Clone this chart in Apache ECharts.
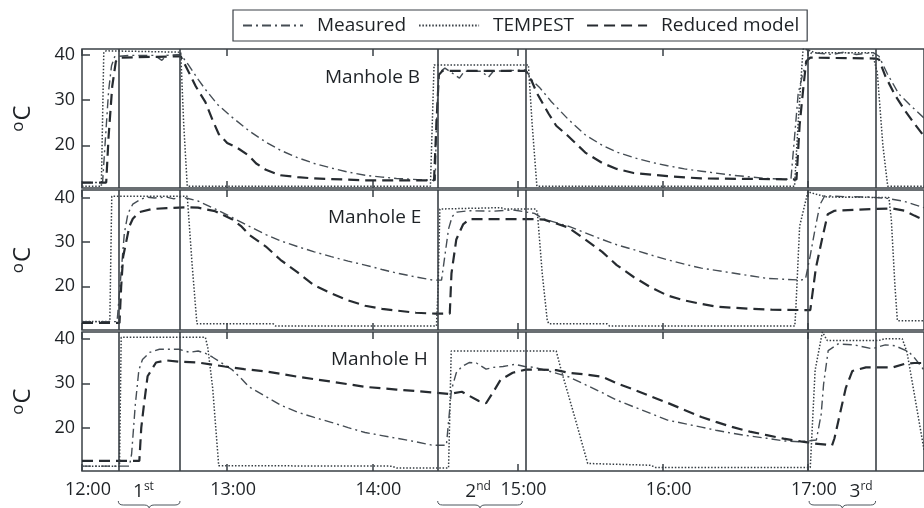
<!DOCTYPE html>
<html>
<head>
<meta charset="utf-8">
<script src="https://cdn.jsdelivr.net/npm/echarts@6/dist/echarts.min.js"></script>
<style>html,body{margin:0;padding:0;background:#fff}#main{width:924px;height:508px}</style>
</head>
<body>
<div id="main"></div>
<script>
// time in minutes after 12:00, temperature in degC
var hourTicks = [0, 60, 120, 180, 240, 300];
var yTicks = [20, 30, 40];
var cycleLines = [15, 40.5, 147, 183.4, 300, 328];
var cycleLabelPos = [25.4, 163.7, 322];
var cycleLabels = ['1st', '2nd', '3rd'];
var braceSpans = [[15, 40.5], [147, 182], [300.5, 328]];
var panelNames = ['Manhole B', 'Manhole E', 'Manhole H'];

var bMeasured = [[0,11.8],[8.5,11.8],[9.5,20],[11,32],[12.2,37.5],[13.5,39.5],[20,39.8],[30,39.8],[33,38.7],[35,39.8],[40.8,40],[44,37.7],[48,34.5],[51,32.3],[56,29],[62,26.2],[69,23.2],[76,20.7],[82,18.9],[89,17.3],[96,16],[103,15],[110,14.1],[117,13.4],[124,13],[130,12.7],[137,12.5],[144,12.3],[146,12.3],[146.5,25],[147.5,36],[150,37],[156,34.8],[158,36.3],[165,36.3],[168,35],[170,36.3],[183.4,36.6],[186,34.3],[189,32.8],[194,29.6],[201,25.7],[208,22.3],[215,20],[221,18.5],[228,17.3],[235,16.3],[242,15.5],[249,14.8],[256,14.3],[269,13.4],[283,12.7],[293,12.5],[295,25],[296,31.4],[298,36],[300,38.9],[301.5,40.4],[310,40],[315,40.5],[320,40],[327,40.4],[329.4,39.6],[332.8,35.8],[337.6,31.3],[343,28.5],[348,26]];
var bTempest = [[0,11],[8,11],[9,40.5],[10,40.8],[40.8,40.5],[42,25],[43.5,11],[144,11],[144.5,20],[145.5,37.7],[184.5,37.7],[186,25],[188,11],[294.5,11],[296,25],[298,41.2],[300,41],[303,40.4],[326.6,40.4],[328.7,36],[331,20],[333,11],[348,11]];
var bReduced = [[0,11.8],[10,11.8],[11,22],[12.5,33],[14,38.5],[16,39.3],[40.8,39.6],[43,37.3],[47,33],[51,29.5],[54,25.5],[56.5,22.5],[60,20.5],[64,19.5],[69,17.7],[72,16],[76,14.6],[82,13.4],[89,13],[96,12.7],[117,12.3],[145.5,12.3],[146.5,25],[147.5,35.5],[149,36.4],[183.4,36.4],[186,34],[188,31.5],[192.8,27],[196,24.3],[201,22],[208,18.4],[215,16.1],[221,14.8],[228,13.9],[242,13.2],[256,12.7],[295.3,12.5],[296.6,24.5],[298,32],[299.3,38.5],[301,39.3],[328,39.1],[329.4,38.9],[332.1,35.1],[336.2,30.9],[340.3,27.5],[344.4,24.5],[348,22]];

var eMeasured = [[0,12],[14.5,12],[16,22],[17.5,32],[19,36.5],[21,38.6],[24,39.6],[26.5,40.2],[30,40],[35,40.2],[38,39.8],[41,40.3],[43,40],[48,39.3],[55,37.5],[62,35.6],[69,33.6],[76,31.7],[82,30.3],[89,29],[96,27.8],[103,26.7],[110,25.7],[117,24.8],[124,23.8],[130,23],[138,22.1],[145,21.4],[148.6,21.4],[150,27],[151.5,33],[153,35.8],[155,36.8],[160,37.1],[170,37],[178,37.3],[187,36.5],[191,35.2],[196,34.4],[201,33.6],[208,32.1],[215,30.6],[221,29.4],[228,28.3],[235,27.1],[242,26],[249,25],[256,24.1],[262,23.6],[269,23],[276,22.4],[283,21.8],[290,21.6],[297,21.4],[299,21.6],[301,27],[303,33],[305,38.5],[307,40.5],[315,40.3],[325,40.2],[333,39.9],[340,39.2],[344,38.5],[348,37.8]];
var eTempest = [[0,12],[11.5,12],[12.3,40.4],[43.5,40.4],[45.5,25],[47.5,11.5],[79,11.5],[80,11],[146.5,11],[147.2,20],[147.9,37.5],[173,37.8],[175,37.5],[187.5,37.5],[188.2,36.8],[190.2,23],[192.3,12.2],[193,11.5],[217,11.5],[218,11],[294.6,11],[295,14.5],[296.6,33.6],[300,41.4],[303,40.9],[308,40.2],[333.5,40.1],[334.5,35],[336,20],[337,12.2],[348,12.2]];
var eReduced = [[0,11.7],[15.5,11.7],[16.2,20],[17,26.7],[19.6,33.6],[21,35.3],[23.7,36.8],[29,37.5],[35,37.7],[44,37.9],[48,37.8],[55,37],[62,35.2],[66,33.5],[69,31.7],[76,29],[82,26],[89,23.2],[96,20.2],[103,18.4],[110,16.8],[117,15.6],[124,14.9],[130,14.5],[138,14],[146,13.8],[152,13.8],[152.7,22.9],[154.7,30.6],[157.5,34],[160.2,35.2],[187,35.2],[191,35.1],[196,34.2],[201,33.3],[208,30.6],[215,27.8],[221,24.8],[228,22.1],[235,19.8],[242,17.9],[249,16.8],[256,16],[262,15.4],[276,14.9],[285,14.7],[301,14.6],[303.3,24.1],[306,31],[308.2,36.3],[311,37.1],[326.6,37.5],[335,37.6],[340,37.1],[344,36],[348,35]];

var hMeasured = [[0,11.3],[19.6,11.3],[20.5,14],[22,25],[23.5,33],[25,35.4],[28,37],[32,37.7],[40,37.7],[44.5,37],[48,37.3],[51,36.8],[54,35.9],[58,34.5],[62,33.1],[66,31],[69,29.2],[76,27],[82,25.1],[89,23.5],[96,22.3],[103,21.2],[110,20],[117,18.9],[124,18.2],[130,17.6],[138,16.8],[145,16],[150.6,16],[152.7,28.5],[154.7,32.4],[157,33.8],[160,34.7],[163,34.6],[167,33.2],[170,33.6],[174,33.8],[179,34.3],[183,33.8],[187,33.6],[194,32.6],[201,31.5],[208,29.7],[215,27.9],[221,26.2],[228,24.7],[235,23.2],[242,21.7],[249,20.9],[256,20.1],[262,19.4],[269,18.7],[276,18.1],[283,17.6],[290,17],[297,16.8],[303.5,17.2],[305.5,23],[306.5,29.8],[308.4,37.4],[312.5,38.9],[319,38.7],[326.6,37.8],[332,38.7],[336,38.5],[341.7,37.1],[344,35.8],[348,33]];
var hTempest = [[0,11.3],[15.5,11.3],[16.2,40.4],[51,40.4],[52,38],[54,29],[56.5,11.4],[128,11.3],[130,10.9],[151.5,10.9],[152.6,37.3],[196,37.3],[198,33.1],[204,21.7],[209,11.9],[235,11.5],[237,11],[301,11],[303,33],[306,41.6],[308,39.7],[329.4,39.7],[332,40.1],[339,40.1],[341,37],[344,27.6],[348,15]];
var hReduced = [[0,12.5],[23.7,12.5],[24.5,20],[25.5,24.7],[27.1,31.6],[30.6,34.7],[34.7,35.2],[40,34.9],[48,34.7],[59,33.8],[67,33.2],[76,32.7],[89,31.5],[103,30.4],[117,29.2],[130,28.6],[146,27.9],[152,27.6],[157,28.1],[160,27.2],[164,26],[167,25.5],[169.7,27.8],[173,30.8],[178,32.4],[183.4,33.1],[190,33.1],[196,33],[201,32.4],[208,32],[215,31.5],[221,30],[228,28.6],[235,27.1],[242,25.6],[249,24],[256,22.4],[262,21.3],[269,20.1],[276,19.1],[283,18.3],[290,17.5],[297,16.9],[303,16.4],[310,16],[311,17.6],[313.5,23.7],[315.7,29],[318.4,32.8],[324,33.6],[335,33.6],[340,34.4],[344,34.6],[348,34.6]];

var panels = [
	{ measured: bMeasured, tempest: bTempest, reduced: bReduced, min: 10.6, max: 41.2 },
	{ measured: eMeasured, tempest: eTempest, reduced: eReduced, min: 10.1, max: 41.8 },
	{ measured: hMeasured, tempest: hTempest, reduced: hReduced, min: 10.2, max: 41.6 }
];

var FONT = 'Open Sans';
var INK = '#1e2226';
var FRAME = '#3a4046';

var myChart = echarts.init(document.getElementById('main'));

var grids = [
	{ left: 82, top: 49, width: 850, height: 139 },
	{ left: 82, top: 190, width: 850, height: 140 },
	{ left: 82, top: 332, width: 850, height: 139 }
];
grids.forEach(function (g) {
	g.show = true;
	g.borderColor = FRAME;
	g.borderWidth = 1.5;
	g.backgroundColor = 'transparent';
});

var xAxes = [], yAxes = [], series = [], titles = [];

panels.forEach(function (p, i) {
	// bottom axis
	xAxes.push({
		type: 'value', gridIndex: i, min: 0, max: 348, position: 'bottom',
		axisLine: { show: false },
		splitLine: { show: false },
		axisTick: { show: true, inside: true, length: 7, customValues: hourTicks, lineStyle: { color: FRAME, width: 1.5 } },
		axisLabel: {
			show: i === 2, customValues: hourTicks, margin: 10, padding: [0, 0, 0, 12],
			fontSize: 18, fontFamily: FONT, color: INK,
			formatter: function (v) { return (12 + Math.round(v / 60)) + ':00'; }
		}
	});
	yAxes.push({
		type: 'value', gridIndex: i, min: p.min, max: p.max,
		axisLine: { show: false },
		splitLine: { show: false },
		axisTick: { show: true, inside: true, length: 8, customValues: yTicks, lineStyle: { color: FRAME, width: 1.5 } },
		axisLabel: { customValues: yTicks, margin: 7, fontSize: 18, fontFamily: FONT, color: INK },
		name: '{o|o}C',
		nameLocation: 'middle',
		nameGap: 46,
		nameTextStyle: {
			fontSize: 24, fontFamily: FONT, color: INK,
			rich: { o: { fontSize: 17, fontFamily: FONT, color: INK, verticalAlign: 'top', padding: [0, 1, 9, 0] } }
		}
	});
	titles.push({
		text: panelNames[i],
		left: [325, 328, 331][i],
		top: [68, 208, 350][i],
		padding: 0,
		textStyle: { fontSize: 19, fontWeight: 'normal', fontFamily: FONT, color: INK }
	});
	series.push({
		name: 'Measured', type: 'line', xAxisIndex: i, yAxisIndex: i,
		data: p.measured, symbol: 'none', color: '#454d54',
		lineStyle: { color: '#454d54', width: 1.4, type: [9, 4, 2, 4] },
		z: 3
	});
	series.push({
		name: 'TEMPEST', type: 'line', xAxisIndex: i, yAxisIndex: i,
		data: p.tempest, symbol: 'none', color: '#353c42',
		lineStyle: { color: '#353c42', width: 1.5, type: [1.5, 1.8] },
		z: 2,
		markLine: {
			silent: true, symbol: 'none', animation: false,
			label: { show: false },
			lineStyle: { color: FRAME, width: 1.6, type: 'solid' },
			data: cycleLines.map(function (t) { return { xAxis: t }; })
		}
	});
	series.push({
		name: 'Reduced model', type: 'line', xAxisIndex: i, yAxisIndex: i,
		data: p.reduced, symbol: 'none', color: '#262b30',
		lineStyle: { color: '#262b30', width: 2.2, type: [11, 6] },
		z: 4
	});
});

// top ticks
panels.forEach(function (p, i) {
	xAxes.push({
		type: 'value', gridIndex: i, min: 0, max: 348, position: 'top',
		axisLine: { show: false }, splitLine: { show: false },
		axisTick: { show: true, inside: true, length: 7, customValues: hourTicks, lineStyle: { color: FRAME, width: 1.5 } },
		axisLabel: { show: false }
	});
});

// cycle names under the bottom panel
xAxes.push({
	type: 'value', gridIndex: 2, min: 0, max: 348, position: 'bottom',
	axisLine: { show: false }, splitLine: { show: false }, axisTick: { show: false },
	axisLabel: {
		customValues: cycleLabelPos, margin: 10,
		formatter: function (v) {
			var k = cycleLabelPos.indexOf(v);
			var s = cycleLabels[k];
			return '{n|' + s.charAt(0) + '}{s|' + s.slice(1) + '}';
		},
		rich: {
			n: { fontSize: 19, fontFamily: FONT, color: INK },
			s: { fontSize: 12, fontFamily: FONT, color: INK, verticalAlign: 'top', padding: [0, 0, 9, 0] }
		}
	}
});

// braces
series.push({
	type: 'custom', xAxisIndex: 2, yAxisIndex: 2, clip: false, silent: true,
	data: braceSpans,
	renderItem: function (params, api) {
		var a = api.coord([api.value(0), panels[2].min]);
		var b = api.coord([api.value(1), panels[2].min]);
		var y = a[1] + 34, x1 = a[0], x2 = b[0], xm = (x1 + x2) / 2;
		var d = 'M' + x1 + ' ' + (y - 4) + ' Q' + x1 + ' ' + y + ' ' + (x1 + 5) + ' ' + y +
			' L' + (xm - 5) + ' ' + y + ' Q' + xm + ' ' + y + ' ' + xm + ' ' + (y + 4) +
			' Q' + xm + ' ' + y + ' ' + (xm + 5) + ' ' + y +
			' L' + (x2 - 5) + ' ' + y + ' Q' + x2 + ' ' + y + ' ' + x2 + ' ' + (y - 4);
		return { type: 'path', shape: { pathData: d }, style: { stroke: '#4c555c', fill: 'none', lineWidth: 1 } };
	}
});

var option = {
	animation: false,
	backgroundColor: '#fff',
	title: titles,
	legend: {
		data: ['Measured', 'TEMPEST', 'Reduced model'],
		left: 233, top: 10,
		padding: [6, 8, 6, 9],
		itemGap: 12,
		itemWidth: 60,
		itemHeight: 14,
		itemStyle: { opacity: 0 },
		borderColor: FRAME,
		borderWidth: 1.2,
		backgroundColor: '#fff',
		textStyle: { fontSize: 19, fontFamily: FONT, color: INK, padding: [0, 0, 0, 9] }
	},
	grid: grids,
	xAxis: xAxes,
	yAxis: yAxes,
	series: series
};
myChart.setOption(option);
</script>
</body>
</html>
